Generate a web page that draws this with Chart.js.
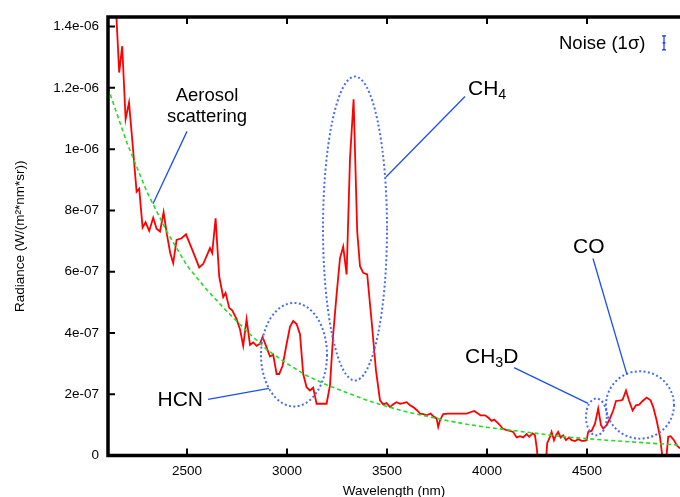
<!DOCTYPE html>
<html>
<head>
<meta charset="utf-8">
<script src="https://cdn.jsdelivr.net/npm/chart.js@4/dist/chart.umd.min.js"></script>
<style>
  html, body { margin: 0; padding: 0; background: #fff; overflow: hidden; }
  canvas { display: block; }
</style>
</head>
<body>
<canvas id="spectrum" width="680" height="497"></canvas>
<script>
// radiance values are stored in units of 1e-7 W/(m^2*nm*sr)
const E7 = 1e-7;

const wavelength = [
  2142, 2161, 2176, 2193, 2210, 2223, 2248, 2261, 2278, 2293, 2311, 2331, 2348, 2365, 2383, 2400,
  2416, 2431, 2448, 2473, 2495, 2526, 2561, 2581, 2615, 2626, 2643, 2661, 2681, 2693, 2711, 2726,
  2748, 2765, 2781, 2798, 2815, 2831, 2848, 2865, 2878, 2895, 2915, 2931, 2948, 2961, 2978, 2998,
  3015, 3031, 3048, 3065, 3081, 3098, 3115, 3131, 3148, 3198, 3215, 3231, 3248, 3265, 3281, 3298,
  3315, 3333, 3351, 3365, 3381, 3401, 3423, 3445, 3465, 3481, 3498, 3515, 3531, 3548, 3565, 3581,
  3598, 3615, 3631, 3651, 3665, 3681, 3698, 3718, 3735, 3748, 3756, 3765, 3781, 3806, 3848, 3898,
  3920, 3936, 3951, 3968, 3990, 4006, 4023, 4036, 4048, 4061, 4078, 4098, 4115, 4131, 4148, 4165,
  4181, 4198, 4211, 4228, 4240, 4248, 4256, 4295, 4301, 4315, 4323, 4335, 4345, 4356, 4368, 4381,
  4395, 4410, 4423, 4440, 4456, 4473, 4485, 4498, 4506, 4523, 4540, 4556, 4570, 4581, 4598, 4615,
  4631, 4645, 4668, 4678, 4695, 4711, 4728, 4745, 4761, 4778, 4798, 4818, 4831, 4848, 4865, 4878,
  4895, 4906, 4918, 4935, 4948, 4965
];
const radiance = [
  15.0, 12.50, 13.36, 10.98, 11.52, 10.55, 8.61, 8.71, 7.44, 7.61, 7.33, 7.76, 7.40, 7.31, 7.94, 7.20,
  6.61, 6.28, 7.04, 7.09, 7.22, 6.72, 6.14, 6.25, 6.77, 6.61, 7.74, 5.85, 5.17, 5.31, 4.82, 4.74,
  4.45, 4.12, 3.58, 4.45, 3.61, 3.69, 3.58, 3.65, 3.87, 3.58, 3.23, 3.29, 2.66, 2.66, 2.93, 3.64,
  4.20, 4.39, 4.29, 3.96, 2.66, 2.23, 2.12, 2.21, 1.69, 1.69, 2.30, 3.96, 5.26, 6.44, 6.82, 5.91,
  9.69, 11.63, 7.31, 6.18, 5.96, 5.91, 4.39, 2.77, 1.80, 1.67, 1.71, 1.58, 1.67, 1.74, 1.69, 1.71,
  1.74, 1.64, 1.58, 1.47, 1.37, 1.35, 1.31, 1.37, 1.26, 1.21, 0.93, 1.15, 1.35, 1.37, 1.37, 1.37,
  1.42, 1.45, 1.39, 1.31, 1.31, 1.24, 1.13, 1.17, 1.10, 1.02, 0.88, 0.83, 0.80, 0.77, 0.59, 0.63,
  0.59, 0.70, 0.61, 0.72, 0.66, 0.28, -0.2, -0.2, 0.40, 0.61, 0.77, 0.50, 0.66, 0.77, 0.59, 0.66,
  0.50, 0.59, 0.50, 0.47, 0.53, 0.48, 0.48, 0.50, 0.77, 0.80, 1.04, 1.53, 0.99, 0.88, 0.99, 1.21,
  1.47, 1.78, 1.80, 1.82, 2.12, 1.78, 1.47, 1.64, 1.66, 1.78, 1.89, 1.80, 1.58, 1.15, 0.61, -0.1,
  -0.2, 0.61, 0.63, 0.50, 0.34, 0.23
];

// aerosol scattering continuum
const aerosolWavelength = [2105, 2200, 2300, 2400, 2500, 2600, 2700, 2800, 2900, 3000, 3100, 3200, 3300,
  3400, 3500, 3600, 3700, 3800, 3900, 4000, 4200, 4400, 4600, 4800, 4965];
const aerosolRadiance = [12.0, 10.2, 8.6, 7.3, 6.2, 5.4, 4.7, 4.05, 3.45, 3.0, 2.6, 2.3, 2.05,
  1.8, 1.6, 1.42, 1.28, 1.14, 1.02, 0.92, 0.76, 0.6, 0.5, 0.41, 0.34];

// 1-sigma noise bar
const noiseWavelength = 4885;
const noiseCenter = 13.47;
const noiseSigma = 0.23;

const xTicks = [2500, 3000, 3500, 4000, 4500];
const xTickLabels = ['2500', '3000', '3500', '4000', '4500'];
const yTicks = [0, 2, 4, 6, 8, 10, 12, 14].map(v => v * E7);
const yTickLabels = ['0', '2e-07', '4e-07', '6e-07', '8e-07', '1e-06', '1.2e-06', '1.4e-06'];

const FONT = '"Liberation Sans", Arial, Helvetica, sans-serif';
const BLUE_DOTS = '#4b6cf2';
const BLUE_LINE = '#1c4ff0';

// ellipses round the absorption features: centre (nm, 1e-7), radii (nm, 1e-7)
const ellipses = [
  { cx: 3340, cy: 7.41, rx: 160, ry: 4.96 },
  { cx: 3035, cy: 3.29, rx: 165, ry: 1.69 },
  { cx: 4547, cy: 1.26, rx: 52, ry: 0.60 },
  { cx: 4765, cy: 1.65, rx: 170, ry: 1.10 }
];
// leader lines from label to feature
const pointers = [
  [2500, 10.58, 2330, 8.22],
  [3890, 11.72, 3495, 9.09],
  [2605, 1.83, 2910, 2.19],
  [4135, 2.87, 4505, 1.70],
  [4530, 6.43, 4700, 2.64]
];
// labels: parts are [text, subscript?]
const labels = [
  { x: 2600, y: 11.56, align: 'center', size: 18.5, parts: [['Aerosol', false]] },
  { x: 2600, y: 10.87, align: 'center', size: 18.5, parts: [['scattering', false]] },
  { x: 3905, y: 11.78, align: 'left', size: 21, parts: [['CH', false], ['4', true]] },
  { x: 2580, y: 1.60, align: 'right', size: 21, parts: [['HCN', false]] },
  { x: 3890, y: 3.03, align: 'left', size: 21, parts: [['CH', false], ['3', true], ['D', false]] },
  { x: 4430, y: 6.60, align: 'left', size: 21, parts: [['CO', false]] },
  { x: 4360, y: 13.27, align: 'left', size: 18.5, parts: [['Noise (1\u03c3)', false]] }
];

function drawParts(ctx, item, px, py) {
  const sub = item.size * 0.68;
  const widths = item.parts.map(([t, s]) => {
    ctx.font = `${s ? sub : item.size}px ${FONT}`;
    return ctx.measureText(t).width;
  });
  const total = widths.reduce((a, b) => a + b, 0);
  let x = item.align === 'center' ? px - total / 2 : item.align === 'right' ? px - total : px;
  item.parts.forEach(([t, s], i) => {
    ctx.font = `${s ? sub : item.size}px ${FONT}`;
    ctx.fillText(t, x, s ? py + item.size * 0.22 : py);
    x += widths[i];
  });
}

const annotations = {
  id: 'annotations',
  afterDatasetsDraw(chart) {
    const { ctx, scales: { x, y } } = chart;
    const px = v => x.getPixelForValue(v);
    const py = v => y.getPixelForValue(v * E7);
    ctx.save();

    ctx.strokeStyle = BLUE_DOTS;
    ctx.lineWidth = 2;
    ctx.setLineDash([2, 2.4]);
    ellipses.forEach(e => {
      ctx.beginPath();
      ctx.ellipse(px(e.cx), py(e.cy), Math.abs(px(e.cx + e.rx) - px(e.cx)),
        Math.abs(py(e.cy + e.ry) - py(e.cy)), 0, 0, Math.PI * 2);
      ctx.stroke();
    });

    ctx.setLineDash([]);
    ctx.strokeStyle = BLUE_LINE;
    ctx.lineWidth = 1.3;
    pointers.forEach(([x1, y1, x2, y2]) => {
      ctx.beginPath();
      ctx.moveTo(px(x1), py(y1));
      ctx.lineTo(px(x2), py(y2));
      ctx.stroke();
    });

    // noise bar
    const nx = px(noiseWavelength);
    const nTop = py(noiseCenter + noiseSigma), nBot = py(noiseCenter - noiseSigma);
    ctx.strokeStyle = '#1030ff';
    ctx.lineWidth = 1.2;
    ctx.beginPath();
    ctx.moveTo(nx, nTop); ctx.lineTo(nx, nBot);
    ctx.moveTo(nx - 2, nTop); ctx.lineTo(nx + 2, nTop);
    ctx.moveTo(nx - 2, nBot); ctx.lineTo(nx + 2, nBot);
    ctx.moveTo(nx - 1.5, py(noiseCenter)); ctx.lineTo(nx + 1.5, py(noiseCenter));
    ctx.stroke();

    ctx.fillStyle = '#000';
    ctx.textBaseline = 'alphabetic';
    ctx.textAlign = 'left';
    labels.forEach(l => drawParts(ctx, l, px(l.x), py(l.y)));
    ctx.restore();
  }
};

// thick border with inward ticks (right side runs off the canvas)
const frame = {
  id: 'frame',
  afterDraw(chart) {
    const { ctx, chartArea: a, scales: { x, y } } = chart;
    ctx.save();
    ctx.strokeStyle = '#000';
    ctx.lineWidth = 2;
    ctx.beginPath();
    xTicks.forEach(v => {
      const p = x.getPixelForValue(v);
      ctx.moveTo(p, a.bottom); ctx.lineTo(p, a.bottom - 7);
      ctx.moveTo(p, a.top); ctx.lineTo(p, a.top + 7);
    });
    yTicks.forEach(v => {
      const p = y.getPixelForValue(v);
      ctx.moveTo(a.left, p); ctx.lineTo(a.left + 7, p);
    });
    ctx.stroke();
    ctx.lineWidth = 3.5;
    ctx.lineJoin = 'miter';
    ctx.beginPath();
    ctx.moveTo(a.right + 5, a.top);
    ctx.lineTo(a.left, a.top);
    ctx.lineTo(a.left, a.bottom);
    ctx.lineTo(a.right + 5, a.bottom);
    ctx.stroke();
    ctx.restore();
  }
};

new Chart(document.getElementById('spectrum'), {
  type: 'line',
  data: {
    datasets: [
      {
        data: aerosolWavelength.map((w, i) => ({ x: w, y: aerosolRadiance[i] * E7 })),
        borderColor: '#22dd22',
        borderWidth: 1.6,
        borderDash: [4, 3],
        pointRadius: 0,
        tension: 0
      },
      {
        data: wavelength.map((w, i) => ({ x: w, y: radiance[i] * E7 })),
        borderColor: '#ff0000',
        borderWidth: 1.8,
        pointRadius: 0,
        tension: 0
      }
    ]
  },
  options: {
    responsive: false,
    animation: false,
    devicePixelRatio: 1,
    layout: { padding: { top: 14, right: 0, left: 0, bottom: 0 } },
    plugins: { legend: { display: false }, tooltip: { enabled: false } },
    scales: {
      x: {
        type: 'linear',
        min: 2105,
        max: 4965,
        afterBuildTicks: s => { s.ticks = xTicks.map(v => ({ value: v })); },
        afterFit: s => { s.height = 41.5; },
        grid: { display: false, drawTicks: false },
        border: { display: false },
        ticks: {
          padding: 8,
          color: '#000',
          font: { family: FONT, size: 13.5 },
          maxRotation: 0,
          callback: (v, i) => xTickLabels[i]
        },
        title: {
          display: true,
          text: 'Wavelength (nm)',
          color: '#000',
          font: { family: FONT, size: 13.5 },
          padding: { top: 0, bottom: -2 }
        }
      },
      y: {
        type: 'linear',
        min: 0,
        max: 14.31 * E7,
        afterBuildTicks: s => { s.ticks = yTicks.map(v => ({ value: v })); },
        afterFit: s => { s.width = 108; },
        grid: { display: false, drawTicks: false },
        border: { display: false },
        ticks: {
          padding: 9,
          color: '#000',
          font: { family: FONT, size: 13.5 },
          callback: (v, i) => yTickLabels[i]
        },
        title: {
          display: true,
          text: 'Radiance (W/(m\u00b2*nm*sr))',
          color: '#000',
          font: { family: FONT, size: 13.5 },
          padding: { top: 12, bottom: 0 }
        }
      }
    }
  },
  plugins: [annotations, frame]
});
</script>
</body>
</html>
